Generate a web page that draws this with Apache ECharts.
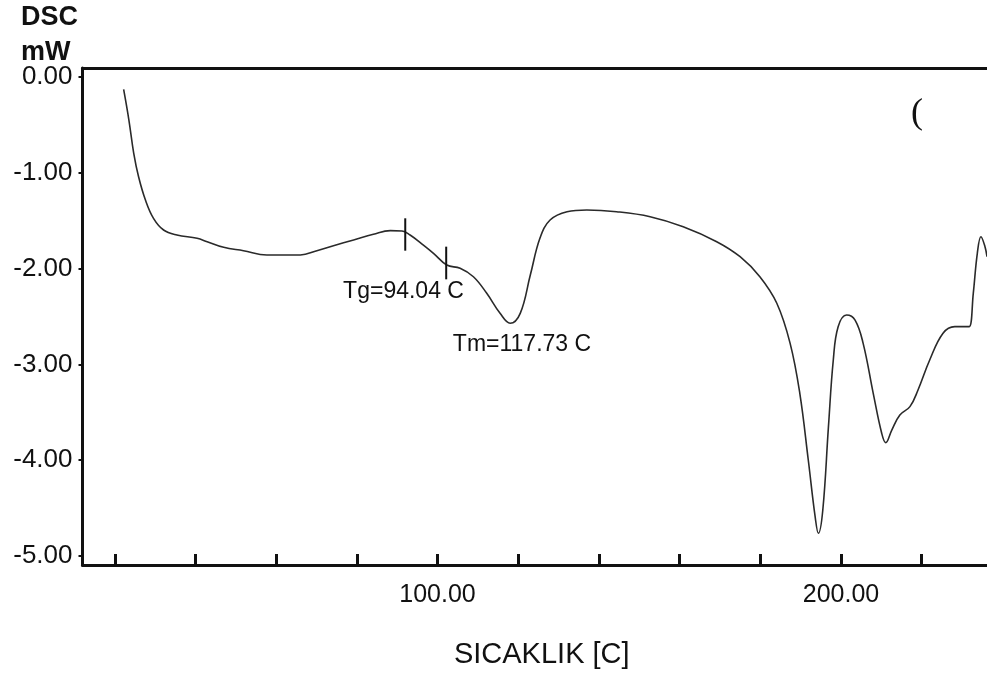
<!DOCTYPE html>
<html>
<head>
<meta charset="utf-8">
<script src="https://cdn.jsdelivr.net/npm/echarts@6/dist/echarts.min.js"></script>
<style>
html,body{margin:0;padding:0;background:#fff;}
#chart{width:987px;height:677px;}
</style>
</head>
<body>
<div id="chart"></div>
<script>
// Temperature (C) and DSC signal (mW)
const temps = [22.2,23.5,24.7,25.9,27.6,29.6,32.1,35.4,40.4,42.9,47.0,51.9,57.7,66.0,70.1,74.2,79.2,84.1,88.3,91.2,93.2,96.5,99.0,102.3,105.6,108.9,112.2,115.5,118.0,120.5,123.0,125.4,127.9,132.1,137.0,144.4,152.7,160.9,169.2,175.0,179.9,184.1,187.4,189.8,191.9,193.6,194.4,195.5,196.9,198.1,199.3,201.4,203.5,205.5,208.0,210.1,211.1,212.6,214.6,217.1,219.1,222.0,225.3,228.2,230.7,231.8,232.8,233.8,234.7,235.7,236.2];
const dsc = [-0.13,-0.449,-0.796,-1.041,-1.284,-1.475,-1.597,-1.649,-1.684,-1.719,-1.778,-1.813,-1.858,-1.858,-1.813,-1.761,-1.701,-1.642,-1.604,-1.608,-1.649,-1.754,-1.840,-1.962,-1.997,-2.085,-2.258,-2.467,-2.571,-2.467,-2.067,-1.681,-1.493,-1.406,-1.388,-1.406,-1.458,-1.563,-1.719,-1.876,-2.085,-2.362,-2.780,-3.302,-3.998,-4.590,-4.763,-4.520,-3.650,-2.954,-2.606,-2.484,-2.537,-2.780,-3.302,-3.719,-3.817,-3.685,-3.528,-3.441,-3.267,-2.954,-2.675,-2.606,-2.606,-2.606,-2.258,-1.840,-1.667,-1.771,-1.876];

const yTickValues = [0, -1, -2, -3, -4, -5];
const xTickValues = [20, 40, 60, 80, 100, 120, 140, 160, 180, 200, 220];
const xLabelValues = [100, 200];

// Tg onset / end marks (temperature, top value, bottom value)
const tgMarkStart = [[92.0, -1.475], [92.0, -1.813]];
const tgMarkEnd = [[102.15, -1.771], [102.15, -2.112]];

// Annotation texts and their anchor points
const annotTexts = ['Tg=94.04 C', 'Tm=117.73 C'];
const annotPoints = [[76.6, -2.244], [103.8, -2.797]];

const FONT = 'Liberation Sans, Arial, Helvetica, sans-serif';
const chart = echarts.init(document.getElementById('chart'), null, {renderer: 'canvas'});

const curve = temps.map((t, i) => [t, dsc[i]]);

chart.setOption({
  backgroundColor: '#ffffff',
  animation: false,
  title: {
    text: 'DSC\nmW',
    left: 21, top: 0, padding: 0,
    textStyle: {fontFamily: FONT, fontSize: 27, fontWeight: 'bold', color: '#111', lineHeight: 35}
  },
  graphic: [{
    type: 'text', left: 911, top: 96,
    style: {text: '(', fontFamily: 'Liberation Serif, Times New Roman, serif', fontSize: 36, fill: '#111'}
  }],
  grid: {left: 82.5, right: 0, top: 68, bottom: 112, containLabel: false, outerBoundsMode: 'none'},
  xAxis: [{
    type: 'value', min: 12, max: 236.2, position: 'bottom',
    name: 'SICAKLIK [C]', nameLocation: 'middle', nameGap: 75,
    nameTextStyle: {fontFamily: FONT, fontSize: 29, color: '#111', padding: [0, 0, 0, 14]},
    axisLine: {show: true, onZero: false, lineStyle: {color: '#111', width: 3}},
    axisTick: {show: true, inside: true, length: 11, customValues: xTickValues, lineStyle: {color: '#111', width: 3}},
    axisLabel: {show: true, customValues: xLabelValues, margin: 18, fontFamily: FONT, fontSize: 25, color: '#111',
      formatter: v => Number(v).toFixed(2)},
    splitLine: {show: false}
  }, {
    type: 'value', min: 12, max: 236.2, position: 'top',
    axisLine: {show: true, onZero: false, lineStyle: {color: '#111', width: 3}},
    axisTick: {show: false}, axisLabel: {show: false}, splitLine: {show: false}
  }],
  yAxis: {
    type: 'value', min: -5.094, max: 0.094,
    axisLine: {show: true, onZero: false, lineStyle: {color: '#111', width: 3}},
    axisTick: {show: true, inside: false, length: 4, customValues: yTickValues, lineStyle: {color: '#111', width: 2}},
    axisLabel: {show: true, customValues: yTickValues, margin: 10, fontFamily: FONT, fontSize: 26, color: '#111',
      formatter: v => Number(v).toFixed(2)},
    splitLine: {show: false}
  },
  series: [{
    type: 'line', data: curve, showSymbol: false, symbol: 'none',
    smooth: 0.4,
    lineStyle: {color: '#2a2a2a', width: 1.6}
  }, {
    type: 'line', data: tgMarkStart, showSymbol: false, symbol: 'none',
    lineStyle: {color: '#111', width: 2}
  }, {
    type: 'line', data: tgMarkEnd, showSymbol: false, symbol: 'none',
    lineStyle: {color: '#111', width: 2}
  }, {
    type: 'scatter', symbolSize: 0, itemStyle: {opacity: 1},
    data: annotPoints.map((p, i) => ({value: p, name: annotTexts[i]})),
    label: {show: true, position: 'right', distance: 0, formatter: p => p.name,
      fontFamily: FONT, fontSize: 23, color: '#111'}
  }]
});
</script>
</body>
</html>
